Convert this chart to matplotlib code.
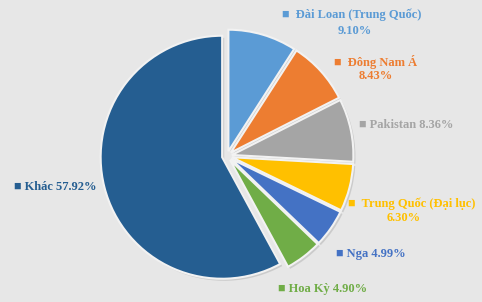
import matplotlib.pyplot as plt
from matplotlib import patheffects as pe

# --- data ---
labels = ["Đài Loan (Trung Quốc)", "Đông Nam Á", "Pakistan", "Trung Quốc (Đại lục)",
          "Nga", "Hoa Kỳ", "Khác"]
shares = [9.10, 8.43, 8.36, 6.30, 4.99, 4.90, 57.92]
colors = ["#5B9BD5", "#ED7D31", "#A5A5A5", "#FFC000", "#4472C4", "#70AD47", "#255E91"]

bg = "#e7e7e7"
W, H = 482, 302
fig = plt.figure(figsize=(W / 100, H / 100), dpi=100, facecolor=bg)
ax = fig.add_axes([0, 0, 1, 1])
ax.set_facecolor(bg)

# explode is in data units (pixels here)
explode = [5, 5, 5, 5, 5, 5, 5]
wedges, _ = ax.pie(shares, colors=colors, explode=explode, startangle=90, counterclock=False,
                   center=(227, H - 156), radius=121.5, frame=True,
                   wedgeprops=dict(edgecolor="#f2f2f2", linewidth=1.5))
for w in wedges:
    w.set_path_effects([pe.SimplePatchShadow(offset=(1.5, -1.5), shadow_rgbFace="#999999", alpha=0.35),
                        pe.Normal()])
ax.set_xlim(0, W)
ax.set_ylim(0, H)
ax.set_aspect("equal")
ax.axis("off")

# label layout (pixel positions, top-left origin): first line, second line
font = dict(family="Liberation Serif", fontweight="bold", fontsize=9)
layout = [
    ((352, 15), (355, 31)),
    ((376, 62), (376, 76)),
    ((406, 125), None),
    ((412, 204), (404, 218)),
    ((371, 254), None),
    ((323, 289), None),
    ((55, 187), None),
]
for lab, val, col, (p1, p2) in zip(labels, shares, colors, layout):
    if p2 is None:
        ax.text(p1[0], H - p1[1], f"■ {lab} {val:.2f}%", color=col, ha="center", va="center", **font)
    else:
        ax.text(p1[0], H - p1[1], f"■  {lab}", color=col, ha="center", va="center", **font)
        ax.text(p2[0], H - p2[1], f"{val:.2f}%", color=col, ha="center", va="center", **font)

fig.savefig("out.png", dpi=100, facecolor=bg)
